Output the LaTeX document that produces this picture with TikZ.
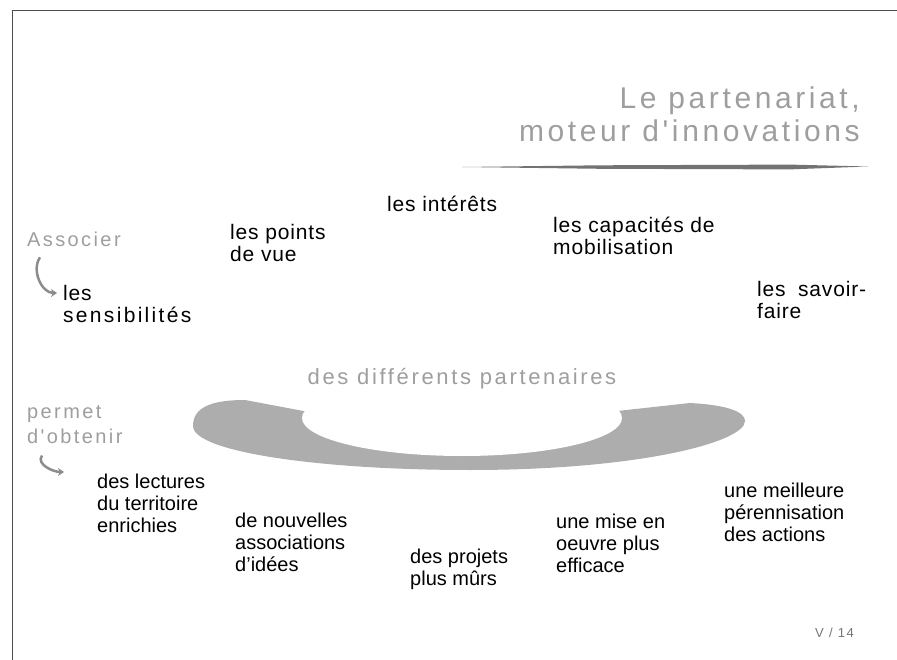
\documentclass[tikz,border=0pt]{standalone}
\usepackage{fontspec}
\setmainfont{Liberation Sans}
\newfontfamily\ghostfamily{Liberation Sans}[LetterSpace=12]
\newfontfamily\widefamily{Liberation Sans}[LetterSpace=4,Ligatures=TeX]
\usetikzlibrary{arrows.meta}

\newcommand{\bodyfont}{\fontsize{20}{22}\selectfont}
\newcommand{\upfont}{\fontsize{21}{22}\widefamily}
\newcommand{\ghostfont}{\fontsize{20}{25}\ghostfamily}

\tikzset{
  txt/.style={font=\bodyfont, align=left, anchor=north west, inner sep=0pt},
  txtup/.style={txt, font=\upfont},
  ghost/.style={font=\ghostfont, text=black!38, align=left, inner sep=0pt},
  curl/.style={draw=black!45, line width=2.5pt, -{Stealth[length=6pt,width=8pt]}},
  swoosh/.style={fill=black!32},
}

\begin{document}
\begin{tikzpicture}[x=1pt, y=-1pt]
  \useasboundingbox (0,0) rectangle (897,660);

  % frame
  \draw[black!70, line width=0.8pt] (12,660) -- (12,10) -- (897,10);

  % title
  \node[ghost, font=\fontsize{30}{33}\ghostfamily, align=right, anchor=north east] (title) at (860,87)
    {Le partenariat,\\moteur d'innovations};
  \fill[black!55] (462,167) -- (600,165.3) -- (790,164.6) -- (868,166.5)
    -- (790,169.4) -- (600,168.8) -- cycle;

  % upper part
  \node[ghost, anchor=base west] (assoc) at (27,247) {Associer};
  \node[txtup] (sensib) at (63,285) {les\\{\addfontfeature{LetterSpace=11}sensibilités}};
  \node[txtup] (pointsvue) at (230,224) {les points\\de vue};
  \node[txtup] (interets) at (387,196) {les intérêts};
  \node[txtup] (capacites) at (553,217) {les capacités de\\mobilisation};
  \node[txtup] (savoirfaire) at (757,281) {\makebox[109pt][s]{les savoir-}\\faire};
  \draw[curl] ([shift={(13,10)}]assoc.south west) to[out=235, in=180] ([shift={(-6,8)}]sensib.north west);

  % swoosh
  \fill[swoosh] (193,426) .. controls (193,407) and (212,400) .. (245,400)
    -- (330,416) -- (590,414) -- (690,403)
    .. controls (728,405) and (745,412) .. (745,421)
    .. controls (745,442) and (640,470) .. (470,470)
    .. controls (320,470) and (193,452) .. (193,426) -- cycle;
  \fill[white] (462,418) ellipse [x radius=160, y radius=38];
  \node[ghost, font=\fontsize{22}{25}\ghostfamily, anchor=base] (partenaires) at (462,384) {des différents partenaires};

  % lower part
  \node[ghost, anchor=north west] (permet) at (27,405) {permet\\d'obtenir};
  \node[txt] (lectures) at (97,474) {des lectures\\du territoire\\enrichies};
  \node[txt] (associations) at (235,513) {de nouvelles\\associations\\d'idées};
  \node[txt] (projets) at (410,549) {des projets\\plus mûrs};
  \node[txt] (miseoeuvre) at (556,514) {une mise en\\oeuvre plus\\efficace};
  \node[txt] (perennisation) at (724,483) {une meilleure\\pérennisation\\des actions};
  \draw[curl] ([shift={(15,12)}]permet.south west) to[out=235, in=180] ([shift={(-33,-2)}]lectures.north west);

  \node[ghost, font=\fontsize{13}{15}\ghostfamily, text=black!55, anchor=base west] (pagenum) at (815,637) {V / 14};
\end{tikzpicture}
\end{document}
